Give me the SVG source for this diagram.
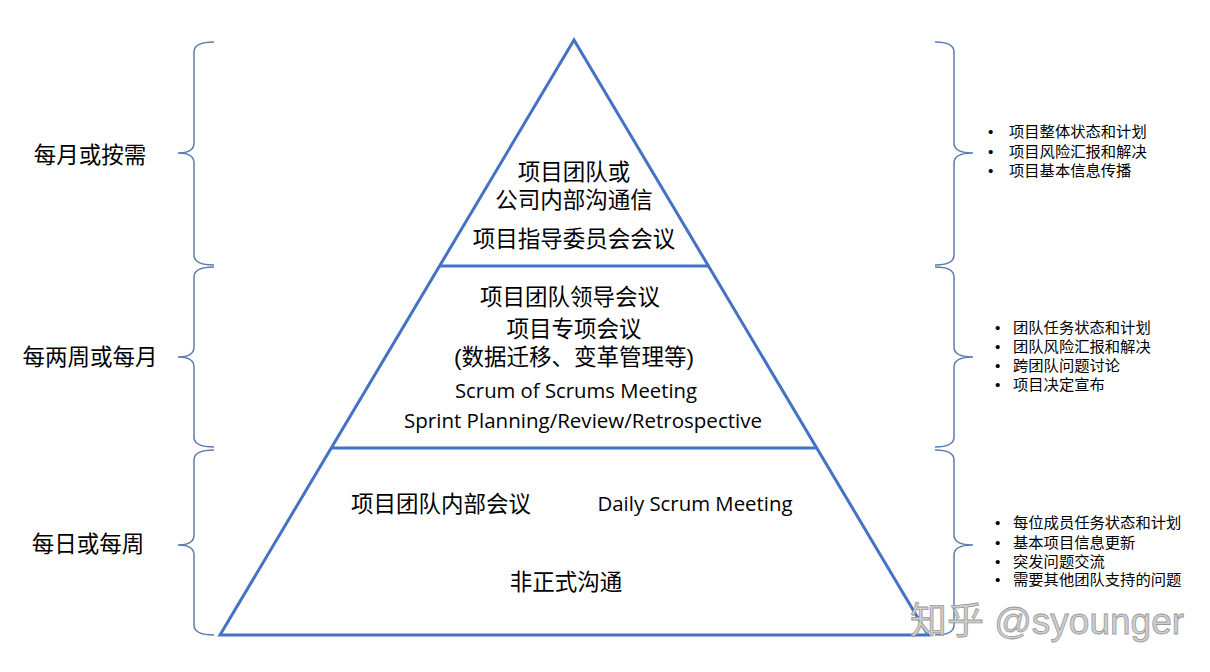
<svg xmlns="http://www.w3.org/2000/svg" width="1210" height="672" viewBox="0 0 1210 672">
<style>
.tri{fill:none;stroke:#4472C4;stroke-width:3;stroke-linejoin:miter}
.br{fill:none;stroke:#5E7EAE;stroke-width:1.5}
.cn{font-family:"Liberation Sans","Noto Sans CJK SC",sans-serif;font-size:22.5px;fill:#000;text-anchor:middle}
.en{font-family:"Open Sans","Liberation Sans",sans-serif;font-size:20px;fill:#000;text-anchor:middle}
.lb{font-family:"Liberation Sans","Noto Sans CJK SC",sans-serif;font-size:22.5px;fill:#000;text-anchor:middle}
.bl{font-family:"Liberation Sans","Noto Sans CJK SC",sans-serif;font-size:15.3px;fill:#000}
.wm{font-family:"Liberation Sans","Noto Sans CJK SC",sans-serif;font-size:37px;fill:#cfcfcf;stroke:#999;stroke-width:0.8}
</style>
<rect width="1210" height="672" fill="#fff"/>
<g id="pyramid">
<polygon class="tri" points="574,40 220,635 928,635"/>
<line class="tri" x1="440" y1="266" x2="708" y2="266"/>
<line class="tri" x1="331" y1="448" x2="817" y2="448"/>
</g>
<g id="connectors">
<path class="br" d="M214,42 Q194,42 194,52 L194,143 Q194,153 178,153 Q194,153 194,163 L194,255 Q194,265 214,265"/>
<path class="br" d="M214,267 Q194,267 194,277 L194,347 Q194,357 178,357 Q194,357 194,367 L194,437 Q194,447 214,447"/>
<path class="br" d="M214,450 Q194,450 194,460 L194,535 Q194,545 178,545 Q194,545 194,555 L194,625 Q194,635 214,635"/>
<path class="br" d="M935,42 Q954,42 954,52 L954,143 Q954,153 973,153 Q954,153 954,163 L954,255 Q954,265 935,265"/>
<path class="br" d="M935,267 Q954,267 954,277 L954,347 Q954,357 973,357 Q954,357 954,367 L954,437 Q954,447 935,447"/>
<path class="br" d="M935,450 Q954,450 954,460 L954,535 Q954,545 973,545 Q954,545 954,555 L954,625 Q954,635 935,635"/>
</g>
<g id="top-tier">
<text class="cn" x="574" y="180">项目团队或</text>
<text class="cn" x="574" y="208">公司内部沟通信</text>
<text class="cn" x="574" y="247">项目指导委员会会议</text>
</g>
<g id="middle-tier">
<text class="cn" x="570" y="305">项目团队领导会议</text>
<text class="cn" x="574" y="337">项目专项会议</text>
<text class="cn" x="574" y="365">(数据迁移、变革管理等)</text>
<text class="en" x="576" y="398" textLength="242" lengthAdjust="spacingAndGlyphs">Scrum of Scrums Meeting</text>
<text class="en" x="583" y="428" textLength="358" lengthAdjust="spacingAndGlyphs">Sprint Planning/Review/Retrospective</text>
</g>
<g id="bottom-tier">
<text class="cn" x="441" y="512">项目团队内部会议</text>
<text class="en" x="695" y="511" textLength="195" lengthAdjust="spacingAndGlyphs">Daily Scrum Meeting</text>
<text class="cn" x="566" y="590">非正式沟通</text>
</g>
<g id="left-labels">
<text class="lb" x="90" y="163">每月或按需</text>
<text class="lb" x="90" y="365">每两周或每月</text>
<text class="lb" x="88" y="552">每日或每周</text>
</g>
<g id="right-top">
<text class="bl" x="988" y="137">•</text><text class="bl" x="1009" y="137">项目整体状态和计划</text>
<text class="bl" x="988" y="157">•</text><text class="bl" x="1009" y="157">项目风险汇报和解决</text>
<text class="bl" x="988" y="176">•</text><text class="bl" x="1009" y="176">项目基本信息传播</text>
</g>
<g id="right-middle">
<text class="bl" x="995" y="333">•</text><text class="bl" x="1013" y="333">团队任务状态和计划</text>
<text class="bl" x="995" y="352">•</text><text class="bl" x="1013" y="352">团队风险汇报和解决</text>
<text class="bl" x="995" y="371">•</text><text class="bl" x="1013" y="371">跨团队问题讨论</text>
<text class="bl" x="995" y="390">•</text><text class="bl" x="1013" y="390">项目决定宣布</text>
</g>
<g id="right-bottom">
<text class="bl" x="995" y="528">•</text><text class="bl" x="1013" y="528">每位成员任务状态和计划</text>
<text class="bl" x="995" y="548">•</text><text class="bl" x="1013" y="548">基本项目信息更新</text>
<text class="bl" x="995" y="567">•</text><text class="bl" x="1013" y="567">突发问题交流</text>
<text class="bl" x="995" y="585">•</text><text class="bl" x="1013" y="585">需要其他团队支持的问题</text>
</g>
<g id="watermark">
<text class="wm" x="910" y="634">知乎 @syounger</text>
</g>
</svg>
